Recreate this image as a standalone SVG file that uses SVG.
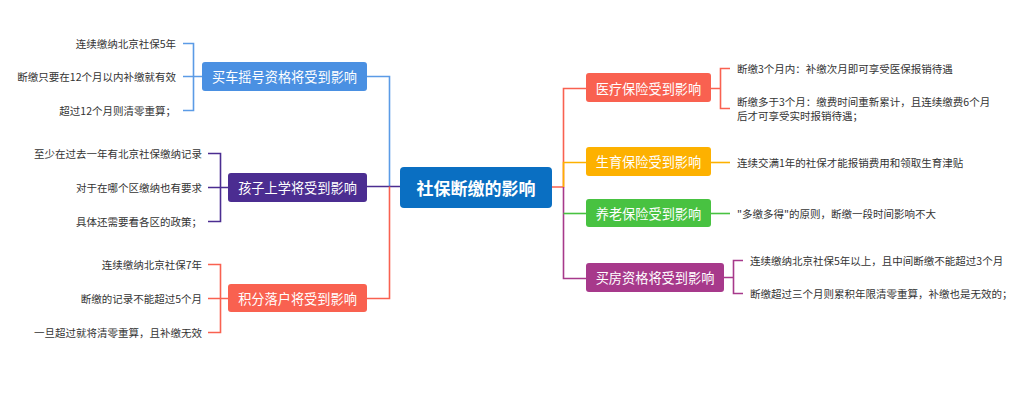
<svg xmlns="http://www.w3.org/2000/svg" width="1024" height="412" viewBox="0 0 1024 412">
<style>
text{font-family:"Noto Sans CJK SC","Noto Sans",sans-serif;}
.leaf{font-size:10.5px;fill:#333;dominant-baseline:central;}
.br{font-size:13.2px;fill:#fff;text-anchor:middle;dominant-baseline:central;}
.ctr{font-size:17px;font-weight:bold;fill:#fff;text-anchor:middle;dominant-baseline:central;}
.c{fill:none;stroke-width:1.6;}
.end{text-anchor:end;}
</style>
<rect width="1024" height="412" fill="#fff"/>
<g id="connectors">
  <path class="c" stroke="#5B9BE6" d="M367 76.5H389.5V186.5"/>
  <path class="c" stroke="#4B2D91" d="M367 186.5H400"/>
  <path class="c" stroke="#F96150" d="M389.5 186.5V298.5H367"/>
  <path class="c" stroke="#5B9BE6" d="M202 76.5H183M183 43.5H193.5V110.5H183"/>
  <path class="c" stroke="#4B2D91" d="M228 187.5H208M208 153.5H220.5V221.5H208"/>
  <path class="c" stroke="#F96150" d="M228 298.5H208M208 264.5H220.5V332.5H208"/>
  <path class="c" stroke="#F96150" d="M552 187H563.5V88.5H586"/>
  <path class="c" stroke="#FDB100" d="M563.5 187V162.5H586"/>
  <path class="c" stroke="#A7398B" d="M563.5 187V278.5H586"/>
  <path class="c" stroke="#48C241" d="M563.5 213.5H586"/>
  <path class="c" stroke="#F96150" d="M711 88.5H720.5M730 68.5H720.5V108.5H730"/>
  <path class="c" stroke="#FDB100" d="M711 162.5H730"/>
  <path class="c" stroke="#48C241" d="M711 213.5H730"/>
  <path class="c" stroke="#A7398B" d="M724 277.5H733.5M743 260.5H733.5V293.5H743"/>
</g>
<g id="center">
  <rect x="400" y="167" width="152" height="41" rx="4" fill="#0A6FC2"/>
  <text class="ctr" x="476" y="187.5">社保断缴的影响</text>
</g>
<g id="car">
  <rect x="202" y="62" width="165" height="29" rx="3" fill="#4A90E2"/>
  <text class="br" x="284.5" y="76.5">买车摇号资格将受到影响</text>
  <text class="leaf end" x="176" y="43.5">连续缴纳北京社保5年</text>
  <text class="leaf end" x="176" y="76.5">断缴只要在12个月以内补缴就有效</text>
  <text class="leaf end" x="176" y="110.5">超过12个月则清零重算；</text>
</g>
<g id="school">
  <rect x="228" y="173" width="139" height="29" rx="3" fill="#4B2D91"/>
  <text class="br" x="297.5" y="187.5">孩子上学将受到影响</text>
  <text class="leaf end" x="202" y="153.5">至少在过去一年有北京社保缴纳记录</text>
  <text class="leaf end" x="202" y="187.5">对于在哪个区缴纳也有要求</text>
  <text class="leaf end" x="202" y="221.5">具体还需要看各区的政策；</text>
</g>
<g id="hukou">
  <rect x="228" y="284" width="139" height="28" rx="3" fill="#F96150"/>
  <text class="br" x="297.5" y="298.5">积分落户将受到影响</text>
  <text class="leaf end" x="202" y="264.5">连续缴纳北京社保7年</text>
  <text class="leaf end" x="202" y="298.5">断缴的记录不能超过5个月</text>
  <text class="leaf end" x="202" y="332.5">一旦超过就将清零重算，且补缴无效</text>
</g>
<g id="medical">
  <rect x="586" y="73" width="125" height="29" rx="3" fill="#F96150"/>
  <text class="br" x="648.5" y="88">医疗保险受到影响</text>
  <text class="leaf" x="737" y="68.5">断缴3个月内：补缴次月即可享受医保报销待遇</text>
  <text class="leaf" x="737" y="101.5">断缴多于3个月：缴费时间重新累计，且连续缴费6个月</text>
  <text class="leaf" x="737" y="115">后才可享受实时报销待遇；</text>
</g>
<g id="maternity">
  <rect x="586" y="147" width="125" height="29" rx="3" fill="#FDB100"/>
  <text class="br" x="648.5" y="161.5">生育保险受到影响</text>
  <text class="leaf" x="737" y="162.5">连续交满1年的社保才能报销费用和领取生育津贴</text>
</g>
<g id="pension">
  <rect x="586" y="199" width="125" height="28" rx="3" fill="#48C241"/>
  <text class="br" x="648.5" y="213">养老保险受到影响</text>
  <text class="leaf" x="737" y="213.5">"多缴多得"的原则，断缴一段时间影响不大</text>
</g>
<g id="house">
  <rect x="586" y="263" width="138" height="29" rx="3" fill="#A7398B"/>
  <text class="br" x="655" y="277.5">买房资格将受到影响</text>
  <text class="leaf" x="750" y="260.5">连续缴纳北京社保5年以上，且中间断缴不能超过3个月</text>
  <text class="leaf" x="750" y="293.5">断缴超过三个月则累积年限清零重算，补缴也是无效的；</text>
</g>
</svg>
